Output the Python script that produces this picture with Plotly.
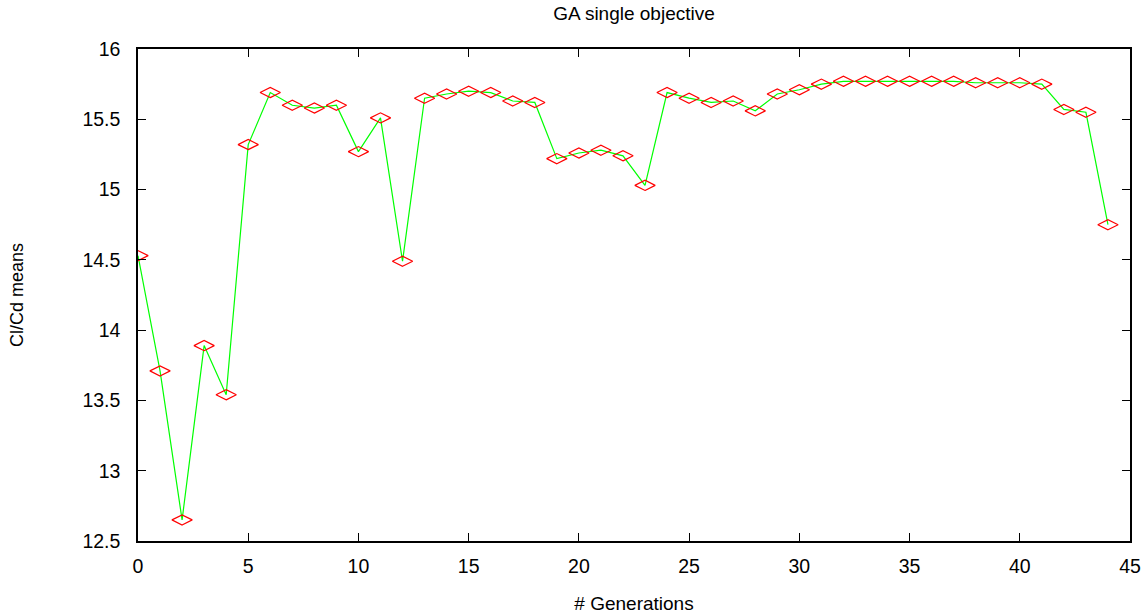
import plotly.graph_objects as go

generations = list(range(45))
clcd_means = [14.53, 13.71, 12.65, 13.89, 13.54, 15.32, 15.69, 15.60, 15.58, 15.60,
              15.27, 15.51, 14.49, 15.65, 15.68, 15.70, 15.69, 15.63, 15.62, 15.22,
              15.26, 15.28, 15.24, 15.03, 15.69, 15.65, 15.62, 15.63, 15.56, 15.68,
              15.71, 15.75, 15.77, 15.77, 15.77, 15.77, 15.77, 15.77, 15.76, 15.76,
              15.76, 15.75, 15.57, 15.55, 14.75]
x_ticks = [0, 5, 10, 15, 20, 25, 30, 35, 40, 45]
y_ticks = [12.5, 13, 13.5, 14, 14.5, 15, 15.5, 16]
y_tick_labels = ["12.5", "13", "13.5", "14", "14.5", "15", "15.5", "16"]

fig = go.Figure()
fig.add_trace(go.Scatter(
    x=generations, y=clcd_means, mode="lines",
    line=dict(color="#00ff00", width=1.2),
    showlegend=False, hoverinfo="skip"))
fig.add_trace(go.Scatter(
    x=generations, y=clcd_means, mode="markers",
    marker=dict(symbol="diamond-wide-open", size=14.5, color="#ff0000",
                line=dict(color="#ff0000", width=1.2)),
    showlegend=False))

font_family = "Liberation Sans, Arial, sans-serif"
axis_common = dict(
    showgrid=False, zeroline=False, showline=True, linecolor="black", linewidth=1.5,
    mirror="ticks", ticks="inside", ticklen=8, tickcolor="black", tickwidth=1,
    automargin=False,
    tickfont=dict(family=font_family, size=19.5, color="black"),
)

fig.update_layout(
    width=1144, height=614,
    margin=dict(l=138, r=14, t=49, b=73),
    paper_bgcolor="white", plot_bgcolor="white",
    title=dict(text="GA single objective", x=634 / 1144, xanchor="center",
               y=1 - 13 / 614, yanchor="middle",
               font=dict(family=font_family, size=19, color="black")),
    xaxis=dict(range=[0, 45], tickvals=x_ticks, ticktext=[str(v) for v in x_ticks],
               ticklabelstandoff=7,
               title=dict(text="# Generations", standoff=21,
                          font=dict(family=font_family, size=19, color="black")),
               **axis_common),
    yaxis=dict(range=[12.5, 16], tickvals=y_ticks, ticktext=y_tick_labels,
               ticklabelstandoff=12,
               title=dict(text="Cl/Cd means", standoff=54,
                          font=dict(family=font_family, size=18, color="black")),
               **axis_common),
)

fig.write_html("out.html")
